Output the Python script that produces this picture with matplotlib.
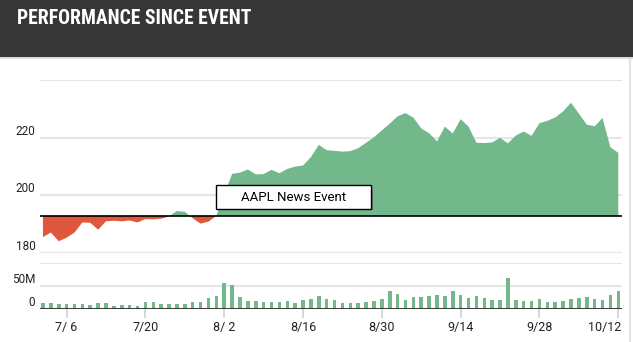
import matplotlib
matplotlib.use("Agg")
import matplotlib.pyplot as plt
from matplotlib import font_manager
from matplotlib.patches import Rectangle
from matplotlib.lines import Line2D
import matplotlib.transforms as mtransforms
import numpy as np

# ---------------- data ----------------
title = "PERFORMANCE SINCE EVENT"
event_label = "AAPL News Event"
event_index = 22

price = [185.4, 187.0, 184.0, 185.2, 187.0, 190.5, 190.4, 188.0, 190.9, 191.1,
         190.9, 191.2, 190.5, 191.7, 191.6, 191.8, 192.6, 194.5, 194.2, 192.0,
         190.1, 190.8, 192.8, 200.1, 207.4, 207.8, 208.9, 207.2, 207.3, 208.8,
         207.6, 209.1, 209.9, 210.3, 213.2, 217.5, 215.6, 215.4, 215.1, 215.3,
         216.3, 218.2, 220.1, 222.5, 224.8, 227.4, 228.5, 226.9, 223.2, 221.5,
         218.7, 223.8, 221.4, 226.4, 223.8, 218.2, 218.1, 218.3, 219.9, 218.0,
         220.7, 222.1, 220.6, 225.0, 225.8, 227.0, 229.1, 232.1, 228.3, 224.5,
         223.9, 226.8, 216.6, 214.7]

volume_m = [13.9, 12.5, 10.3, 10.3, 11.7, 11.7, 9.5, 12.5, 12.5, 7.3,
            9.5, 9.5, 7.3, 14.7, 14.7, 10.3, 11.7, 11.7, 11.7, 16.1,
            14.7, 22.7, 27.1, 55.7, 51.3, 24.9, 18.3, 18.3, 14.7, 16.1,
            16.1, 18.3, 12.5, 20.5, 21.3, 27.9, 21.3, 19.8, 13.2, 13.2,
            13.2, 16.1, 17.6, 22.0, 38.9, 33.0, 19.1, 25.7, 25.7, 27.9,
            30.1, 28.6, 38.9, 30.8, 23.5, 27.9, 23.5, 19.1, 19.1, 67.5,
            19.1, 16.9, 16.9, 21.3, 14.7, 15.4, 16.9, 21.3, 23.5, 25.7,
            21.3, 19.1, 30.8, 39.6]

tick_idx = [3, 13, 23, 33, 43, 53, 63, 73]
tick_labels = ["7/ 6", "7/20", "8/ 2", "8/16", "8/30", "9/14", "9/28", "10/12"]
price_ticks = [180, 200, 220, 240]
price_tick_labels = ["180", "200", "220", ""]
vol_ticks = [0, 50, 100]
vol_tick_labels = ["0", "50M", ""]

# ---------------- style ----------------
GREEN = "#72b88b"
RED = "#e0583b"
GRID = "#e6e6e6"
HEADER = "#363636"
TXT = "#222222"

available = {f.name for f in font_manager.fontManager.ttflist}
body_font = ["Roboto", "DejaVu Sans"]
title_fonts = [f for f in ["Roboto Condensed", "Liberation Sans Narrow", "Roboto"] if f in available]
title_fonts.append("DejaVu Sans")
plt.rcParams["font.family"] = body_font

W, H = 633, 342
fig = plt.figure(figsize=(W / 100, H / 100), dpi=100)
fig.patch.set_facecolor("white")

# header
fig.patches.append(Rectangle((0, 1 - 57 / H), 1, 57 / H, transform=fig.transFigure,
                             facecolor=HEADER, edgecolor="none", zorder=0))
fig.add_artist(Line2D([0, 1], [1 - 58 / H] * 2, transform=fig.transFigure,
                      color="#d4d4d4", lw=1.2))
t = fig.text(17 / W, 1 - 19 / H, title, color="white", fontweight="bold",
             fontsize=17, va="center", ha="left", family=title_fonts)
fig.canvas.draw()
wpx = t.get_window_extent().width
if wpx > 235:
    t.set_fontsize(17 * 235 / wpx)

# right border
fig.add_artist(Line2D([630 / W] * 2, [0, 1 - 59 / H], transform=fig.transFigure,
                      color="#e2e2e2", lw=1.5))

x = np.arange(len(price))
p = np.array(price)
base = price[event_index]

left = 39.5 / W
width = (622 - 39.5) / W
xlim = (-0.44, len(price) - 1 + 0.47)

# price panel
ax = fig.add_axes([left, 1 - 252.7 / H, width, (252.7 - 80) / H])
ax.fill_between(x, p, base, where=p >= base, interpolate=True, color=GREEN, lw=0, zorder=2)
ax.fill_between(x, p, base, where=p <= base, interpolate=True, color=RED, lw=0, zorder=2)
ax.axhline(base, color="black", lw=1.2, zorder=3)
ax.set_xlim(*xlim)
ax.set_ylim(180, 240)
ax.set_yticks(price_ticks)
ax.set_yticklabels(price_tick_labels, va="bottom")
ax.set_xticks([])
ax.grid(axis="y", color=GRID, lw=1.5, zorder=0)
ax.set_axisbelow(True)
ax.tick_params(axis="y", length=0, pad=3, labelsize=8.5, labelcolor=TXT)
for s in ax.spines.values():
    s.set_visible(False)
ax.patch.set_alpha(0)

# event annotation box
box_w = 19.6
box_lo = base + 2.4
box_hi = base + 10.6
ax.add_patch(Rectangle((event_index + 0.25, box_lo - 0.5), box_w, box_hi - box_lo,
                       facecolor="#777777", edgecolor="none", zorder=4))
ax.add_patch(Rectangle((event_index, box_lo), box_w, box_hi - box_lo,
                       facecolor="white", edgecolor="black", lw=1.0, zorder=5))
ax.text(event_index + box_w / 2, (box_lo + box_hi) / 2, event_label, ha="center",
        va="center", fontsize=9.5, color="black", zorder=6)

# volume panel
ax2 = fig.add_axes([left, 1 - 309 / H, width, (309 - 262.7) / H])
ax2.bar(x, volume_m, width=0.45, color=GREEN, zorder=2)
ax2.set_xlim(*xlim)
ax2.set_ylim(0, 100)
ax2.set_yticks(vol_ticks)
ax2.set_yticklabels(vol_tick_labels, va="bottom")
ax2.grid(axis="y", color=GRID, lw=1.5, zorder=0)
ax2.set_axisbelow(True)
ax2.axhline(0, color="#222222", lw=1.2, zorder=3)
ax2.set_xticks(tick_idx)
ax2.set_xticklabels(tick_labels)
ax2.tick_params(axis="y", length=0, pad=3, labelsize=8.5, labelcolor=TXT)
ax2.tick_params(axis="x", length=6.5, width=1.2, color="#c9cfe2", pad=2,
                labelsize=9, labelcolor=TXT)
for s in ax2.spines.values():
    s.set_visible(False)
ax2.patch.set_alpha(0)

# keep the last date label inside the plot, as in the reference
last = ax2.get_xticklabels()[-1]
last.set_horizontalalignment("right")
last.set_transform(last.get_transform() +
                   mtransforms.ScaledTranslation(3 / 100, 0, fig.dpi_scale_trans))

fig.savefig("out.png", dpi=100)
